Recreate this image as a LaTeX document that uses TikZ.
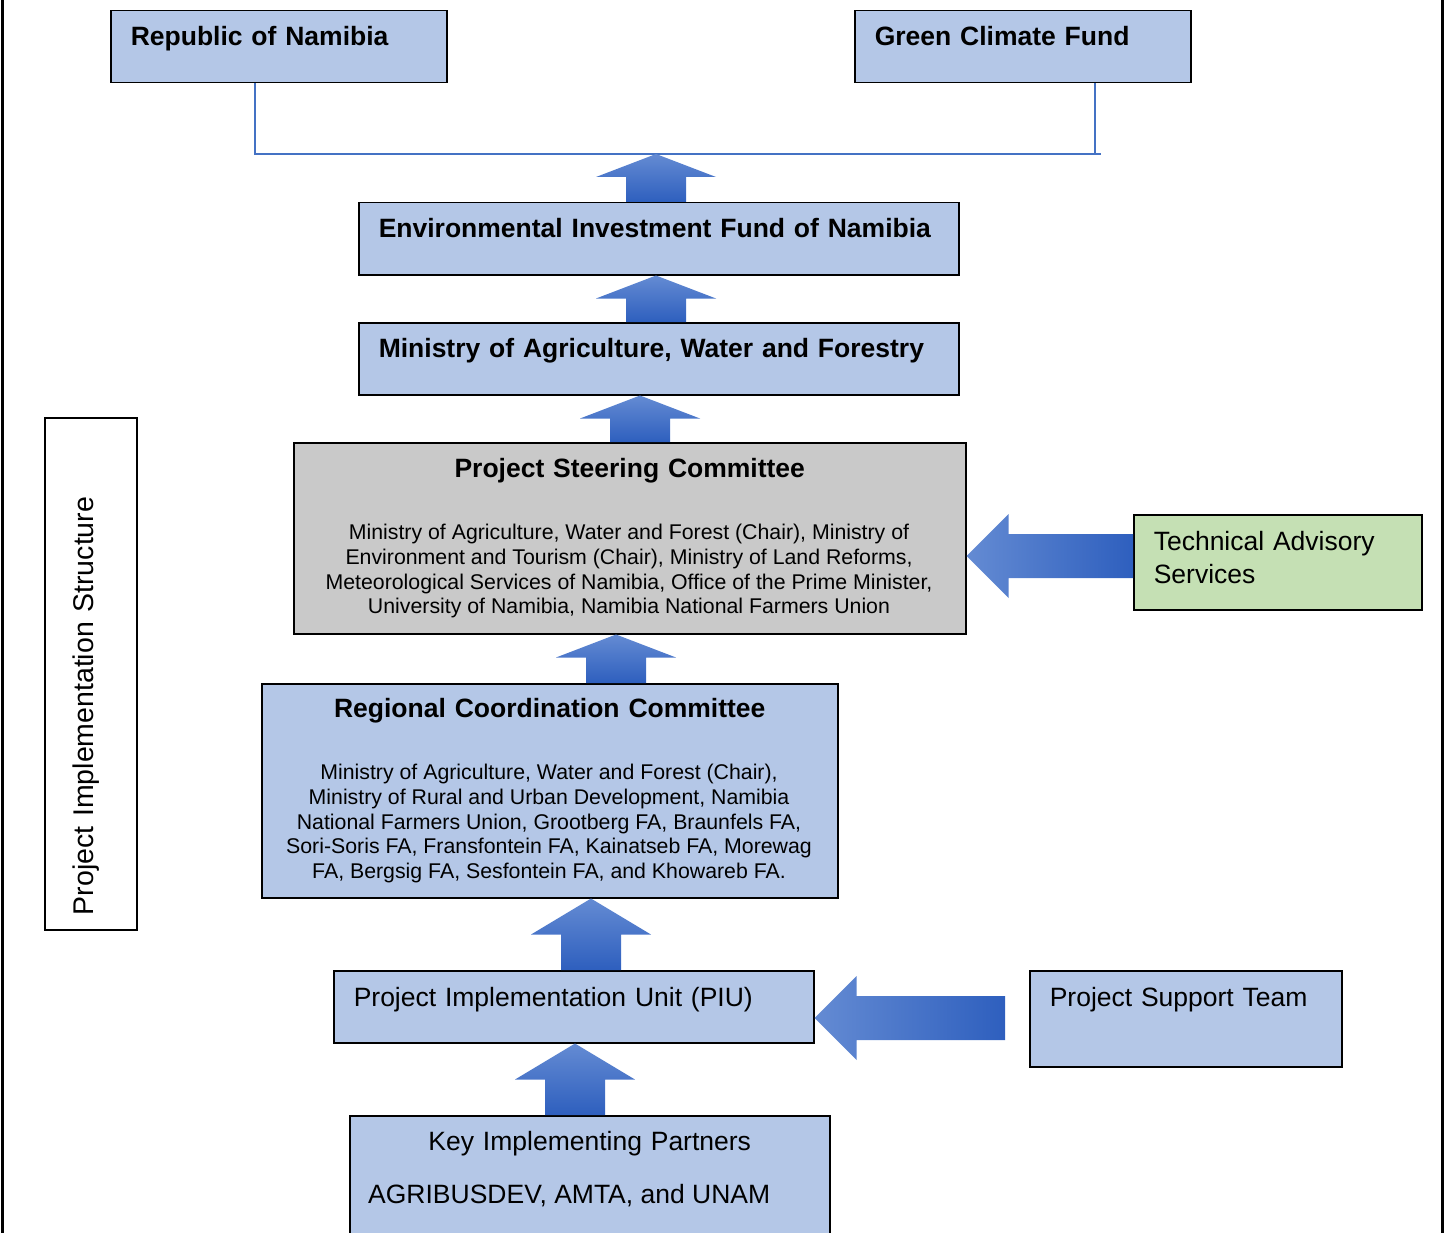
\documentclass[tikz,border=0pt]{standalone}
\usepackage{fontspec}
\setmainfont{Liberation Sans}
\usetikzlibrary{calc}
\definecolor{boxblue}{HTML}{B4C7E7}
\definecolor{boxgrey}{HTML}{C9C9C9}
\definecolor{boxgreen}{HTML}{C5E0B4}
\definecolor{linkblue}{HTML}{4472C4}
\definecolor{arrlight}{HTML}{648BD3}
\definecolor{arrdark}{HTML}{2E5FBE}
\newcommand{\blockup}[3]{%
	\coordinate (bt) at (#1);
	\coordinate (bh) at (#2);
	\shade[top color=arrlight, bottom color=arrdark] ($(bt)+(-30,0)$) -- ($(bh)+(-30,#3)$) -- ($(bh)+(-60,#3)$) -- (bh) -- ($(bh)+(60,#3)$) -- ($(bh)+(30,#3)$) -- ($(bt)+(30,0)$) -- cycle;}
\newcommand{\blockleft}[2]{%
	\coordinate (bt) at (#1);
	\coordinate (bh) at (#2);
	\shade[left color=arrlight, right color=arrdark] ($(bt)+(0,-22)$) -- ($(bh)+(42,-22)$) -- ($(bh)+(42,-42)$) -- (bh) -- ($(bh)+(42,42)$) -- ($(bh)+(42,22)$) -- ($(bt)+(0,22)$) -- cycle;}

\begin{document}
\begin{tikzpicture}[x=1pt, y=-1pt,
		box/.style={draw, line width=1.5pt, fill=boxblue, anchor=north west, inner xsep=20pt, inner ysep=0pt, align=left},
		title/.style={font=\fontsize{26.5}{31}\selectfont\bfseries},
		plain/.style={font=\fontsize{26.5}{33}\selectfont},
		members/.style={font=\fontsize{21.3}{24.7}\selectfont, align=center, inner sep=0pt},
		link/.style={draw=linkblue, line width=2pt}]
		\useasboundingbox (0,0) rectangle (1447,1233);
		\draw[line width=2.5pt] (2.5,0) -- (2.5,1233);
		\draw[line width=2.5pt] (1442.5,0) -- (1442.5,1233);
		\node (rep)[box, title, text width=296pt, text height=35pt, text depth=37pt] at(110,10) {Republic of Namibia};
		\node (gcf)[box, title, text width=296pt, text height=35pt, text depth=37pt] at(854,10) {Green Climate Fund};
		\node (eif)[box, title, text width=560pt, text height=35pt, text depth=37pt] at(358,202) {Environmental Investment Fund of Namibia};
		\node (mawf)[box, title, text width=560pt, text height=35pt, text depth=37pt] at(358,322) {Ministry of Agriculture, Water and Forestry};
		\node (psc)[box, title, fill=boxgrey, align=center, text width=632pt, text height=35pt, text depth=156pt] at(293,442) {Project Steering Committee};
		\node (pscm)[members, anchor=north] at(629,524) {Ministry of Agriculture, Water and Forest (Chair), Ministry of\\
			Environment and Tourism (Chair), Ministry of Land Reforms,\\
			Meteorological Services of Namibia, Office of the Prime Minister,\\
			University of Namibia, Namibia National Farmers Union};
		\node (tas)[box, plain, fill=boxgreen, text width=248pt, text height=35.5pt, text depth=59.5pt] at(1133,514) {Technical Advisory\\Services};
		\node (rcc)[box, title, align=center, text width=536pt, text height=34pt, text depth=180pt] at(261,683) {Regional Coordination Committee};
		\node (rccm)[members, anchor=north] at(549,764) {Ministry of Agriculture, Water and Forest (Chair),\\
			Ministry of Rural and Urban Development, Namibia\\
			National Farmers Union, Grootberg FA, Braunfels FA,\\
			Sori-Soris FA, Fransfontein FA, Kainatseb FA, Morewag\\
			FA, Bergsig FA, Sesfontein FA, and Khowareb FA.};
		\node (piu)[box, plain, text width=440pt, text height=35.5pt, text depth=36.5pt] at(333,970) {Project Implementation Unit (PIU)};
		\node (pst)[box, plain, text width=272pt, text height=35.5pt, text depth=60.5pt] at(1029,970) {Project Support Team};
		\node (kip)[box, plain, align=center, text width=440pt, text height=34.5pt, text depth=100pt] at(349,1115) {Key Implementing Partners};
		\node (kipm)[plain, anchor=base west, inner sep=0pt] at(368,1203.5) {AGRIBUSDEV, AMTA, and UNAM};
		\node (pis)[draw, line width=1.5pt, rotate=90, inner xsep=15pt, inner ysep=0pt, text width=482pt, align=left, text height=48pt, text depth=44pt, font=\fontsize{28.5}{34}\selectfont] at(91,674) {Project Implementation Structure};
		\coordinate (hub) at(656,154);
		\draw[link] (rep.south) ++(-24,0) |- (hub) -- ++(445,0);
		\draw[link] (gcf.south) ++(72,0) -- ++(0,72);
		\coordinate (c1) at(656,0);
		\coordinate (c2) at(640,0);
		\coordinate (c3) at(616,0);
		\coordinate (c4) at(591,0);
		\coordinate (c5) at(575,0);
		\blockup{c1 |- eif.north}{hub}{23}
		\blockup{c1 |- mawf.north}{c1 |- eif.south}{23}
		\blockup{c2 |- psc.north}{c2 |- mawf.south}{23}
		\blockup{c3 |- rcc.north}{c3 |- psc.south}{23}
		\blockup{c4 |- piu.north}{c4 |- rcc.south}{36}
		\blockup{c5 |- kip.north}{c5 |- piu.south}{36}
		\coordinate (r1) at(0,556);
		\coordinate (r2) at(1005,1018);
		\blockleft{tas.west |- r1}{psc.east |- r1}
		\blockleft{r2}{piu.east |- r2}
	\end{tikzpicture}
\end{document}
